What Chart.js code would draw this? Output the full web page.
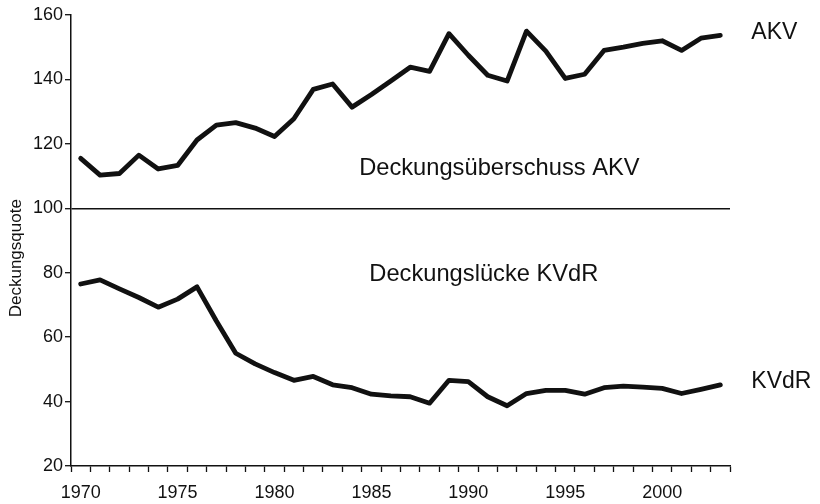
<!DOCTYPE html>
<html lang="de">
<head>
    <meta charset="UTF-8">
    <title>Deckungsquote AKV / KVdR</title>
    <style>
        body {
            margin: 0;
            padding: 0;
            background-color: #fff;
        }

        #chartBox {
            width: 820px;
            height: 504px;
            position: relative;
        }
    </style>
    <script src="https://cdn.jsdelivr.net/npm/chart.js"></script>
</head>
<body>
    <div id="chartBox">
        <canvas id="quoteChart"></canvas>
    </div>

    <script>
        const years = [];
        for (let y = 1970; y <= 2003; y++) years.push(y);

        const akvValues = [
            115.5, 110.3, 110.8, 116.5, 112.2, 113.3, 121.2, 125.8, 126.6, 124.9,
            122.3, 127.8, 136.9, 138.6, 131.4, 135.3, 139.5, 143.8, 142.5, 154.2,
            147.5, 141.3, 139.5, 155.0, 148.8, 140.3, 141.6, 149.0, 150.0, 151.2,
            152.0, 149.0, 152.8, 153.7
        ];

        const kvdrValues = [
            76.5, 77.8, 75.0, 72.3, 69.3, 71.8, 75.6, 65.0, 55.0, 51.7,
            49.0, 46.6, 47.8, 45.2, 44.3, 42.3, 41.8, 41.5, 39.5, 46.6,
            46.2, 41.5, 38.7, 42.5, 43.5, 43.5, 42.3, 44.3, 44.8, 44.5,
            44.1, 42.5, 43.8, 45.2
        ];

        const seriesNames = ['AKV', 'KVdR'];
        const yTicks = [20, 40, 60, 80, 100, 120, 140, 160];
        const baseline = 100;
        const yTitle = 'Deckungsquote';

        // Beschriftungen im Diagramm: [Text, Jahr, Wert]
        const areaNotes = [
            ['Deckungsüberschuss AKV', 1991.6, 112.5],
            ['Deckungslücke KVdR', 1990.8, 79.5]
        ];

        const fontFamily = '"Liberation Sans", Arial, Helvetica, sans-serif';
        const ink = '#111';

        const notesPlugin = {
            id: 'notes',
            afterDatasetsDraw(chart) {
                const ctx = chart.ctx;
                const xs = chart.scales.x;
                const ys = chart.scales.y;
                ctx.save();
                ctx.fillStyle = ink;
                ctx.font = '23px ' + fontFamily;
                ctx.textBaseline = 'middle';

                // Namen am Ende der Linien
                ctx.textAlign = 'left';
                const last = years.length - 1;
                chart.data.datasets.forEach((ds) => {
                    const px = xs.getPixelForValue(last) + 31;
                    const py = ys.getPixelForValue(ds.data[last]) - 3;
                    ctx.fillText(ds.label, px, py);
                });

                // Flächenbeschriftungen
                ctx.font = '23.7px ' + fontFamily;
                ctx.textAlign = 'center';
                areaNotes.forEach(([text, year, val]) => {
                    ctx.fillText(text, xs.getPixelForValue(year - years[0]), ys.getPixelForValue(val));
                });

                // Achsentitel
                ctx.font = '17px ' + fontFamily;
                ctx.translate(16, ys.getPixelForValue(84.5));
                ctx.rotate(-Math.PI / 2);
                ctx.fillText(yTitle, 0, 0);
                ctx.restore();
            }
        };

        new Chart(document.getElementById('quoteChart'), {
            type: 'line',
            data: {
                labels: years,
                datasets: [
                    {
                        label: seriesNames[0],
                        data: akvValues,
                        borderColor: ink,
                        borderWidth: 4.8,
                        pointRadius: 0,
                        tension: 0,
                        borderJoinStyle: 'round',
                        borderCapStyle: 'round'
                    },
                    {
                        label: seriesNames[1],
                        data: kvdrValues,
                        borderColor: ink,
                        borderWidth: 4.8,
                        pointRadius: 0,
                        tension: 0,
                        borderJoinStyle: 'round',
                        borderCapStyle: 'round'
                    }
                ]
            },
            options: {
                responsive: true,
                maintainAspectRatio: false,
                animation: false,
                layout: {
                    padding: { left: 0, right: 90, top: 15, bottom: 0 }
                },
                plugins: {
                    legend: { display: false },
                    tooltip: { enabled: false }
                },
                scales: {
                    x: {
                        type: 'category',
                        offset: true,
                        afterFit: (scale) => { scale.height = 38; },
                        grid: {
                            offset: true,
                            drawOnChartArea: false,
                            drawTicks: true,
                            tickLength: 6,
                            tickColor: ink,
                            tickWidth: 1.3
                        },
                        border: { display: true, color: ink, width: 1.5 },
                        ticks: {
                            autoSkip: false,
                            maxRotation: 0,
                            padding: 10,
                            color: ink,
                            font: { family: fontFamily, size: 18 },
                            callback: function (value) {
                                const yr = years[value];
                                return yr % 5 === 0 ? String(yr) : '';
                            }
                        }
                    },
                    y: {
                        min: yTicks[0],
                        max: yTicks[yTicks.length - 1],
                        afterFit: (scale) => { scale.width = 71; },
                        afterBuildTicks: (scale) => {
                            scale.ticks = yTicks.map(v => ({ value: v }));
                        },
                        grid: {
                            drawOnChartArea: true,
                            color: (c) => (c.tick && c.tick.value === baseline ? ink : 'rgba(0,0,0,0)'),
                            lineWidth: 1.4,
                            drawTicks: true,
                            tickLength: 6,
                            tickColor: ink,
                            tickWidth: 1.3
                        },
                        border: { display: true, color: ink, width: 1.5 },
                        ticks: {
                            padding: 2,
                            color: ink,
                            font: { family: fontFamily, size: 18 }
                        }
                    }
                }
            },
            plugins: [notesPlugin]
        });
    </script>
</body>
</html>
